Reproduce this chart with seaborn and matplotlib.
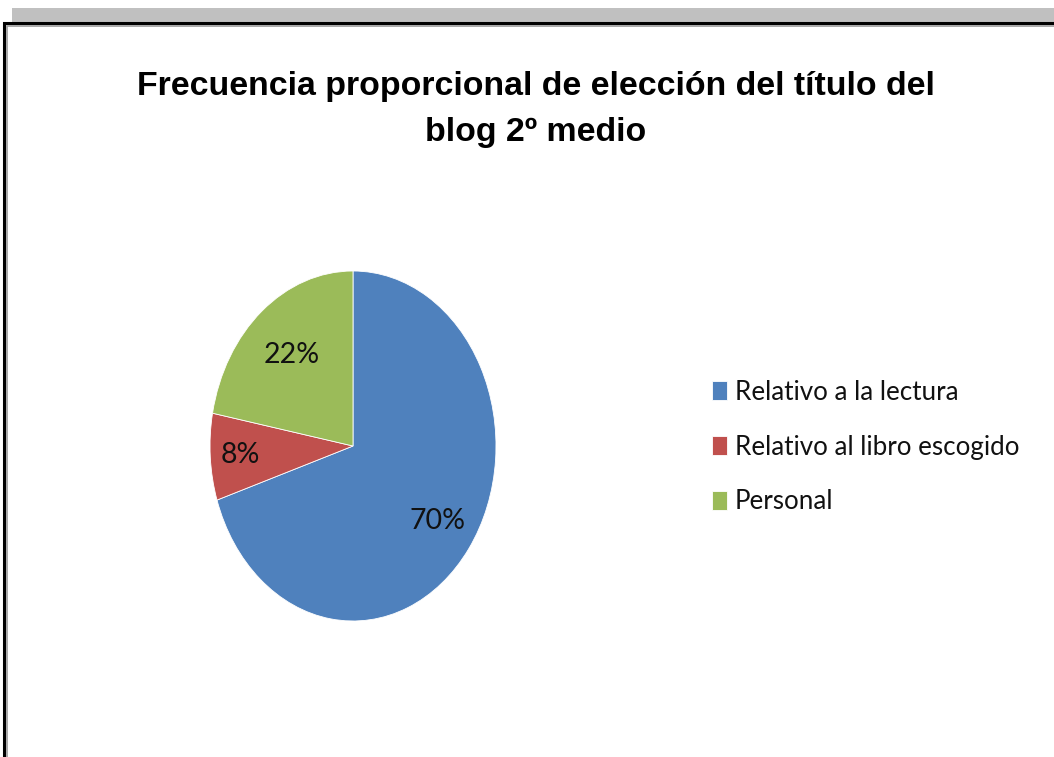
import matplotlib.pyplot as plt
import numpy as np
import seaborn as sns
from matplotlib.patches import Rectangle

sns.set_theme(style="white")
plt.rcParams["font.family"] = ["Liberation Sans", "DejaVu Sans"]

# Datos
categorias = ["Relativo a la lectura", "Relativo al libro escogido", "Personal"]
porcentajes = [70, 8, 22]
colores = ["#4F81BD", "#C0504D", "#9BBB59"]
titulo = ["Frecuencia proporcional de elección del título del", "blog 2º medio"]

W, H = 1054, 757
LATO = ["Lato", "DejaVu Sans"]
fig = plt.figure(figsize=(W / 100, H / 100), dpi=100)
fig.patch.set_facecolor("white")
renderer = fig.canvas.get_renderer()


def ajustar(txt, ancho_px, **kw):
    # tamaño de letra para que el texto ocupe el ancho del original
    t = fig.text(0, 0, txt, fontsize=20, **kw)
    w = t.get_window_extent(renderer).width
    t.remove()
    return 20 * ancho_px / w


# marco del gráfico (barra gris superior y borde)
fig.patches.append(Rectangle((12 / W, 1 - 22 / H), 1, 14 / H, transform=fig.transFigure,
                             facecolor="#c0c0c0", edgecolor="none", zorder=0))
fig.patches.append(Rectangle((4 / W, -0.1), 1.2, 1.1 - 23.5 / H, transform=fig.transFigure,
                             facecolor="white", edgecolor="black", linewidth=2.2, zorder=1))
fig.patches.append(Rectangle((7 / W, -0.1), 1.2, 1.1 - 26.5 / H, transform=fig.transFigure,
                             facecolor="none", edgecolor="#9a9a9a", linewidth=1.2, zorder=1))

fs_tit = ajustar(titulo[0], 798, fontweight="bold")
fig.text(536 / W, 1 - 95 / H, titulo[0], ha="center", va="baseline", fontsize=fs_tit,
         fontweight="bold", color="black", zorder=3)
fig.text(536 / W, 1 - 141 / H, titulo[1], ha="center", va="baseline", fontsize=fs_tit,
         fontweight="bold", color="black", zorder=3)

fs_leg = ajustar(categorias[1], 284, family=LATO)

ax = fig.add_axes([210 / W, 1 - 621 / H, 286 / W, 350 / H])
ax.set_zorder(3)
wedges, _, autotexts = ax.pie(
    porcentajes, colors=colores, startangle=90, counterclock=False,
    autopct="%1.0f%%", radius=1,
    wedgeprops={"edgecolor": "white", "linewidth": 0.6},
    textprops={"fontsize": fs_leg * 1.1, "color": "#111111", "family": LATO},
)
# distancia de cada etiqueta al centro (como en Excel, "ajuste óptimo")
for w, t, r in zip(wedges, autotexts, [0.73, 0.79, 0.675]):
    ang = np.deg2rad((w.theta1 + w.theta2) / 2)
    t.set_position((r * np.cos(ang), r * np.sin(ang)))
ax.set_aspect("auto")
ax.set_xlim(-1, 1)
ax.set_ylim(-1, 1)
ax.axis("off")

fs_px = fs_leg * 100 / 72
fig.legend(wedges, categorias, loc="center left", bbox_to_anchor=(712 / W, 1 - 447 / H),
           frameon=False, prop={"family": LATO, "size": fs_leg},
           handlelength=15 / fs_px, handleheight=20 / fs_px, handletextpad=8 / fs_px,
           labelspacing=1.15, borderpad=0, borderaxespad=0, labelcolor="#111111")

fig.savefig("out.png", dpi=100)
